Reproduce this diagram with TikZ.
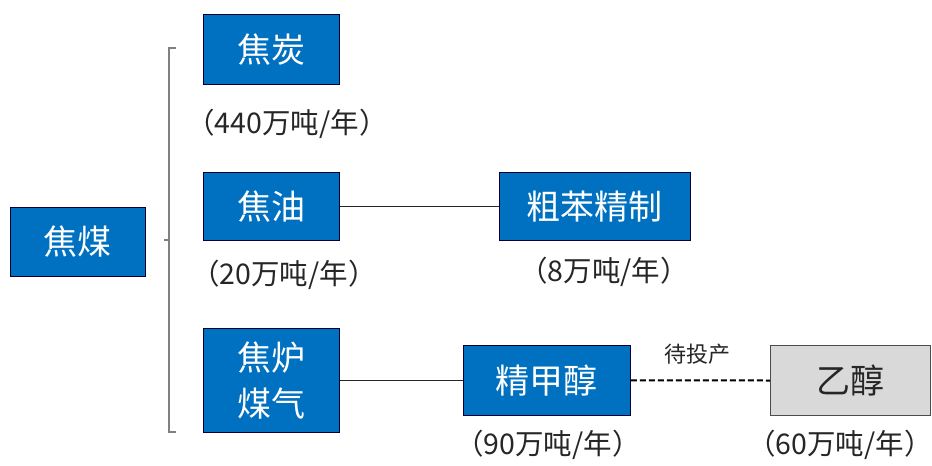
\documentclass[tikz,border=0pt]{standalone}
\usepackage{fontspec}
\setmainfont{Noto Sans CJK SC}
\begin{document}
\begin{tikzpicture}[x=1pt,y=-1pt,
  bluebox/.style={draw=black!80!blue,line width=0.8pt,fill={rgb,255:red,0;green,112;blue,192},text=white,font=\fontsize{34}{36}\selectfont,inner sep=0pt,anchor=north west},
  graybox/.style={draw=black!70,line width=1pt,fill={rgb,255:red,217;green,217;blue,217},text=black!85,font=\fontsize{34}{36}\selectfont,inner sep=0pt,anchor=north west},
  captext/.style={font=\fontsize{28.5}{30}\selectfont,text=black!85,inner sep=0pt},
  link/.style={draw=black!85,line width=1pt},
  bracket/.style={draw=black!50,line width=1.4pt}]
\useasboundingbox (0,0) rectangle (932,466);
\node[bluebox,minimum width=135pt,minimum height=69pt] (coal) at (10,207) {焦煤};
\node[bluebox,minimum width=136pt,minimum height=70pt] (coke) at (203,14) {焦炭};
\node[bluebox,minimum width=136pt,minimum height=68pt] (tar) at (203,172) {焦油};
\node[bluebox,minimum width=191pt,minimum height=68pt] (benz) at (499,172) {粗苯精制};
\node[bluebox,minimum width=136pt,minimum height=104pt,align=center,font=\fontsize{34}{46}\selectfont] (gas) at (203,328) {焦炉\\煤气};
\node[bluebox,minimum width=167pt,minimum height=70pt] (meth) at (463,345) {精甲醇};
\node[graybox,minimum width=160pt,minimum height=70pt] (eth) at (770,345) {乙醇};
\node[captext] (c1) at (287,124) {（440万吨/年）};
\node[captext] (c2) at (284,275) {（20万吨/年）};
\node[captext] (c3) at (604,272) {（8万吨/年）};
\node[captext] (c4) at (548,445) {（90万吨/年）};
\node[captext] (c5) at (840,445) {（60万吨/年）};
\node[font=\fontsize{22}{24}\selectfont,text=black!85,inner sep=0pt] (wait) at (697,354) {待投产};
\coordinate (bt) at (176,48);
\coordinate (bb) at (176,432);
\coordinate (bm) at (169,240);
\draw[bracket] (bt) -- (169,48) -- (169,432) -- (bb);
\draw[bracket] (bm) -- ++(-5,0);
\draw[link] (tar.east) -- (benz.west);
\draw[link] (gas.east |- meth.west) -- (meth.west);
\draw[draw=black,dash pattern=on 6pt off 3pt,line width=2pt] (meth.east) -- (eth.west);
\end{tikzpicture}
\end{document}
